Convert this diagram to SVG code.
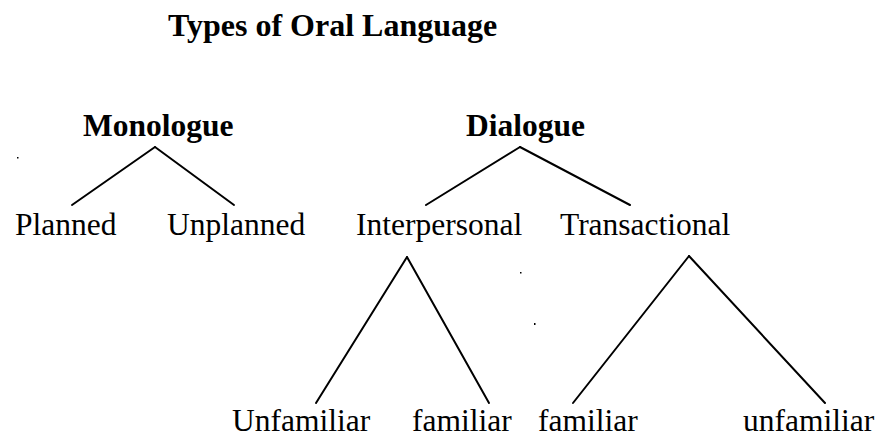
<svg xmlns="http://www.w3.org/2000/svg" width="882" height="438" viewBox="0 0 882 438">
<style>
text { font-family: "Liberation Serif", "Times New Roman", serif; font-size: 31.5px; fill: #000; }
.b { font-weight: bold; }
.t { font-size: 32px; }
.c line { stroke: #000; stroke-width: 2; stroke-linecap: round; }
</style>
<rect width="882" height="438" fill="#fff"/>
<g id="title"><text class="b t" x="168" y="36">Types of Oral Language</text></g>
<g id="monologue"><text class="b" x="83" y="136">Monologue</text></g>
<g id="planned"><text x="15" y="235">Planned</text></g>
<g id="unplanned"><text x="167" y="235">Unplanned</text></g>
<g id="dialogue"><text class="b" x="466" y="136">Dialogue</text></g>
<g id="interpersonal"><text x="356" y="235">Interpersonal</text></g>
<g id="transactional"><text x="560" y="235">Transactional</text></g>
<g id="unfamiliar1"><text x="232" y="431">Unfamiliar</text></g>
<g id="familiar1"><text x="412" y="431">familiar</text></g>
<g id="familiar2"><text x="538" y="431">familiar</text></g>
<g id="unfamiliar2"><text x="743" y="431">unfamiliar</text></g>
<g class="c" id="connectors">
<line x1="155" y1="147" x2="72" y2="205"/>
<line x1="155" y1="147" x2="234" y2="205"/>
<line x1="520" y1="147" x2="426" y2="205"/>
<line x1="520" y1="147" x2="630" y2="205"/>
<line x1="407" y1="257" x2="316" y2="403"/>
<line x1="407" y1="257" x2="489" y2="403"/>
<line x1="689" y1="256" x2="573" y2="403"/>
<line x1="689" y1="256" x2="825" y2="403"/>
</g>
<g id="dots" fill="#000">
<rect x="17" y="157" width="1.5" height="1.5"/>
<rect x="520" y="272" width="1.5" height="1.5"/>
<rect x="534" y="323" width="1.5" height="2"/>
</g>
</svg>
